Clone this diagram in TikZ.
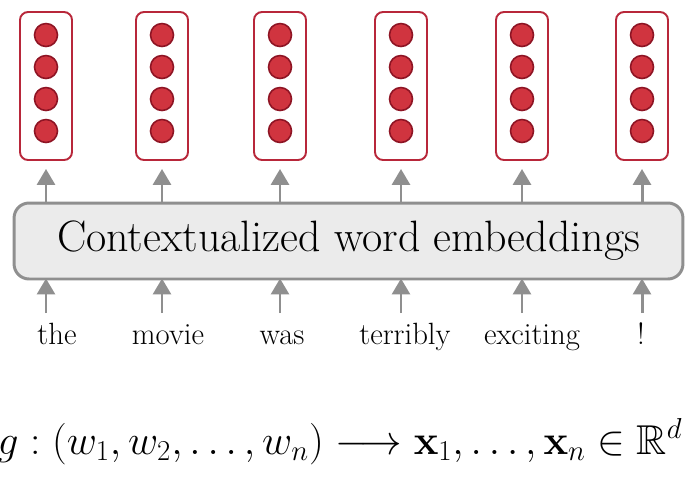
\documentclass[tikz,border=0pt]{standalone}
\usepackage{tikz}
\usetikzlibrary{calc, arrows.meta, positioning}
\usepackage{amsfonts,amssymb}
\usepackage{amsmath}

\definecolor{vecred}{HTML}{B8273A}
\definecolor{dotfill}{HTML}{D0343F}
\definecolor{dotline}{HTML}{8E1424}
\definecolor{arrgray}{HTML}{8F8F8F}
\definecolor{boxfill}{HTML}{EBEBEB}

\tikzset{
  vecbox/.style={draw=vecred, line width=1.1pt, rounded corners=0.16cm, fill=white,
    minimum width=1.04cm, minimum height=2.96cm, inner sep=0pt},
  unit/.style={circle, fill=dotfill, draw=dotline, line width=0.9pt,
    minimum size=0.46cm, inner sep=0pt},
  arr/.style={arrgray, line width=1.7pt, -{Triangle[width=0.36cm, length=0.32cm]}},
  word/.style={anchor=base, inner sep=0pt, font=\fontsize{17.5}{20}\selectfont}
}

\begin{document}
\begin{tikzpicture}[x=0.02cm, y=-0.02cm]
  \useasboundingbox (0,0) rectangle (700,481);

  % contextual encoder
  \node[draw=arrgray, line width=1.7pt, fill=boxfill, rounded corners=0.3cm,
        minimum width=13.38cm, minimum height=1.52cm,
        font=\fontsize{25}{29}\selectfont] (ctx) at (348.5,241) {Contextualized word embeddings};

  % output vectors
  \foreach \x [count=\i] in {46,162,280,401,522,642} {
    \node[vecbox] (emb\i) at (\x,86) {};
    \foreach \y [count=\j] in {35,67,99,131}
      \node[unit] (u\i\j) at (\x,\y) {};
    \draw[arr, shorten >=0.16cm] (ctx.north -| emb\i) -- (emb\i.south);
    \coordinate (b\i) at (\x,313);
    \draw[arr, shorten >=-0.04cm] (b\i) -- (b\i |- ctx.south);
  }

  % input words
  \foreach \x/\w [count=\i] in {57/the, 168/movie, 282/was, 405/terribly, 532/exciting, 641/!}
    \node[word] (w\i) at (\x,344) {\w};

  % the mapping
  \coordinate (mapc) at (340,454);
  \node[anchor=base, inner sep=0pt, transform shape, scale=0.95,
        font=\fontsize{25}{29}\selectfont] (map) at (mapc)
    {$g:(w_1, w_2, \ldots, w_n) \longrightarrow \mathbf{x}_1, \ldots, \mathbf{x}_n \in \mathbb{R}^d$};
\end{tikzpicture}
\end{document}
